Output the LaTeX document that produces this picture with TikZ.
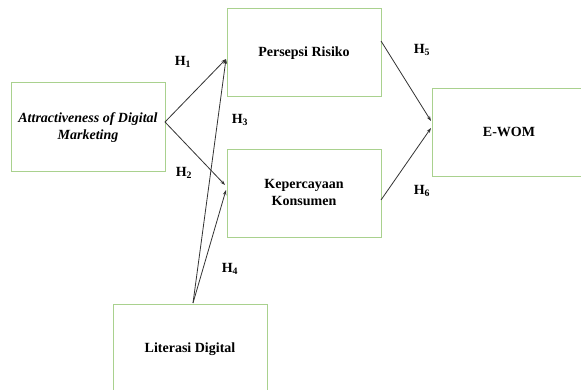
\documentclass[tikz,border=0pt]{standalone}
\usepackage{fontspec}
\setmainfont{Liberation Serif}
\usetikzlibrary{arrows.meta}
\definecolor{boxgreen}{HTML}{A9D18E}
\definecolor{linegray}{HTML}{333333}
\begin{document}
\begin{tikzpicture}[x=1pt,y=1pt,
  varbox/.style={draw=boxgreen, line width=1pt, rectangle, align=center,
    font=\fontsize{14}{16.5}\selectfont\bfseries, inner sep=0pt},
  hlabel/.style={fill=white, inner sep=3pt, font=\fontsize{14}{16}\selectfont\bfseries},
  arr/.style={draw=linegray, line width=0.8pt, -{Stealth[length=5pt,width=3.5pt]}}]
\useasboundingbox (0,0) rectangle (581,-390);
\clip (0,0) rectangle (581,-390);
\fill[white] (0,0) rectangle (581,-390);

% boxes
\node[varbox, minimum width=154, minimum height=89] (attr) at (88,-127.5)
  {\raisebox{2pt}{\shortstack{\itshape Attractiveness of Digital\\[1pt]\itshape Marketing}}};
\node[varbox, minimum width=154, minimum height=88] (pr) at (304,-53)
  {\raisebox{3pt}{Persepsi Risiko}};
\node[varbox, minimum width=154, minimum height=88] (kk) at (304,-194)
  {\raisebox{3pt}{\shortstack{Kepercayaan\\[1pt]Konsumen}}};
\node[varbox, minimum width=162, minimum height=88] (ewom) at (513,-133)
  {\hspace*{-8pt}\raisebox{3pt}{E-WOM}};
\node[varbox, minimum width=154, minimum height=92] (lit) at (190,-350)
  {\raisebox{5pt}{Literasi Digital}};

% connector end points
\coordinate (a0) at (165,-122);
\coordinate (p1) at (226,-59);
\coordinate (k1) at (225,-185);
\coordinate (k2) at (226,-190);
\coordinate (l0) at (193,-303);
\coordinate (p0) at (381,-41);
\coordinate (k0) at (381,-200);
\coordinate (e1) at (431,-121);
\coordinate (e2) at (431,-128);

% connectors
\draw[arr] (a0) -- (p1);
\draw[arr] (a0) -- (k1);
\draw[arr] (l0) -- (p1);
\draw[arr] (l0) -- (k2);
\draw[arr] (p0) -- (e1);
\draw[arr] (k0) -- (e2);

% hypothesis labels
\node[hlabel] (h1) at (183,-62) {H\textsubscript{1}};
\node[hlabel] (h2) at (184,-173) {H\textsubscript{2}};
\node[hlabel] (h3) at (240,-120) {H\textsubscript{3}};
\node[hlabel] (h4) at (230,-269) {H\textsubscript{4}};
\node[hlabel] (h5) at (422,-50) {H\textsubscript{5}};
\node[hlabel] (h6) at (422,-191) {H\textsubscript{6}};
\end{tikzpicture}
\end{document}
